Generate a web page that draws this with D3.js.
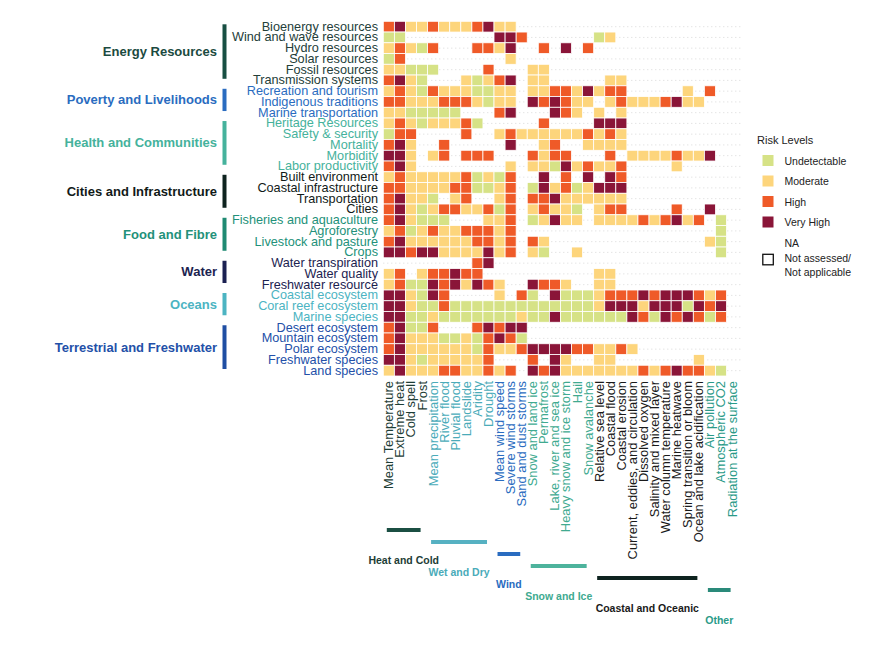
<!DOCTYPE html>
<html>
<head>
<meta charset="utf-8">
<script src="https://cdn.jsdelivr.net/npm/d3@7"></script>
<style>
  body { margin: 0; background: #fff; }
  text { font-family: "Liberation Sans", Arial, sans-serif; }
</style>
</head>
<body>
<div id="riskChart"></div>
<script>
// sectors (rows) and hazards (columns)
const sectors = [
  "Bioenergy resources", "Wind and wave resources", "Hydro resources", "Solar resources",
  "Fossil resources", "Transmission systems", "Recreation and tourism", "Indigenous traditions",
  "Marine transportation", "Heritage Resources", "Safety & security", "Mortality", "Morbidity",
  "Labor productivity", "Built environment", "Coastal infrastructure", "Transportation", "Cities",
  "Fisheries and aquaculture", "Agroforestry", "Livestock and pasture", "Crops",
  "Water transpiration", "Water quality", "Freshwater resource", "Coastal ecosystem",
  "Coral reef ecosystem", "Marine species", "Desert ecosystem", "Mountain ecosystem",
  "Polar ecosystem", "Freshwater species", "Land species"
];

const hazards = [
  "Mean Temperature", "Extreme heat", "Cold spell", "Frost", "Mean precipitation", "River flood",
  "Pluvial flood", "Landslide", "Aridity", "Drought", "Mean wind speed", "Severe wind storms",
  "Sand and dust storms", "Snow and land ice", "Permafrost", "Lake, river and sea ice",
  "Heavy snow and ice storm", "Hail", "Snow avalanche", "Relative sea level", "Coastal flood",
  "Coastal erosion", "Current, eddies, and circulation", "Dissolved oxygen",
  "Salinity and mixed layer", "Water column temperature", "Marine heatwave",
  "Spring transition or bloom", "Ocean and lake acidification", "Air pollution",
  "Atmospheric CO2", "Radiation at the surface"
];

// sector groups: name, first row, last row
const sectorGroups = [
  ["Energy Resources", 0, 5],
  ["Poverty and Livelihoods", 6, 8],
  ["Health and Communities", 9, 13],
  ["Cities and Infrastructure", 14, 17],
  ["Food and Fibre", 18, 21],
  ["Water", 22, 24],
  ["Oceans", 25, 27],
  ["Terrestrial and Freshwater", 28, 32]
];
const sectorGroupColors = ["#184f43", "#2a6cc0", "#45b29c", "#0e231f", "#1f8a72", "#1b2152", "#4cb4c2", "#1f4ea3"];
const sectorTextColors  = ["#24403a", "#2a6cc0", "#45b29c", "#111a18", "#23917a", "#1c2350", "#4cb4c2", "#2350a8"];

// hazard groups: name, first column, last column
const hazardGroups = [
  ["Heat and Cold", 0, 3],
  ["Wet and Dry", 4, 9],
  ["Wind", 10, 12],
  ["Snow and Ice", 13, 18],
  ["Coastal and Oceanic", 19, 28],
  ["Other", 29, 31]
];
const hazardGroupColors = ["#1b4f43", "#56b1c2", "#2a6cc0", "#4db39c", "#0e231f", "#2a8a7a"];
const hazardTextColors  = ["#1d3d36", "#4aabb9", "#2a6cc0", "#40aa90", "#1a1a1a", "#2a9a88"];

// risk level per cell, one string per sector, one letter per hazard
// G = Undetectable, Y = Moderate, O = High, R = Very High, . = not assessed
const riskRows = [
  "ORYYOYYYORYY....................",
  "GG........RRO......GY...........",
  "YOYGO...OOYR..O.R.O.............",
  "GO.........Y....................",
  "YYGGG....O...YY.................",
  "ORYG...YGYOR.YY.....YY..........",
  "YOYGOYYYGGYY.YYOOYRYOO.....Y.O..",
  "OOYYYOOOYGYY.ROROYY.YOYYYORYY...",
  "YYGGGGG...OR...ROY.Y.Y..........",
  "YOYGYYYOG.....O....RRR..........",
  "GOO....O..YOYYYYYYOYOY..........",
  "ORY..O.....R..YO..YYYY..........",
  "RRY.YO.OOO...OYOO...O.YYYYOYYR..",
  "ORY........Y.YYGRYOYYO....Y.....",
  "YOYYYYYOGYGO..R.O.R.RO..........",
  "OOYYYYOOGGYO.GRYOGYRRR..........",
  "ORYYG.YO..YO.OORYYYYYY..........",
  "ORYGYOOYYOGO.YOYYG.YOO....O..R..",
  "ORYGGG...YYO.GYRYY.YYYYOYORYO.G.",
  "YOGYOYYOOOYO..................G.",
  "ORYYYYYYOOYO.OY..............YG.",
  "RRORRYYYYRYO.YG..Y............G.",
  "........OR......................",
  "YO.YOOROO..........YY...........",
  "YOGGRORYROY..ROOY..YY...........",
  "RRYGRO....Y.OG.RGGGYOOORORRROYO.",
  "RRYGGOGGGGGGGGGGGGGYRRRYRRRGROR.",
  "RRGGYGGGGGGGYGGRGGGGGGROGROROGO.",
  "ORGGO...ORORR...................",
  "ORYYYGGYGOROG...................",
  "ORYYYYYYGOYYORRRROOYYOY.........",
  "RRYGYYYYYO...O.RY..YY.......Y...",
  "YRYYYOOYYOYO.RORYYYYYYYOYOROOYG."
];

const riskLevels = ["Undetectable", "Moderate", "High", "Very High"];
const riskCodes  = ["G", "Y", "O", "R"];
const riskColors = ["#d6e286", "#fdd57c", "#ef5a28", "#8a1538"];

// build the cell table from the strings
const cells = [];
riskRows.forEach((row, r) => {
  row.split("").forEach((code, c) => {
    const k = riskCodes.indexOf(code);
    if (k >= 0) cells.push({ sector: sectors[r], hazard: hazards[c], level: riskLevels[k] });
  });
});

const W = 885, H = 647;
const svg = d3.select("#riskChart").append("svg")
  .attr("width", W).attr("height", H);

const x = d3.scaleBand().domain(hazards).range([383.3, 737.6]);
const y = d3.scaleBand().domain(sectors).range([21.3, 376]);
const color = d3.scaleOrdinal().domain(riskLevels).range(riskColors);

// faint dotted grid
svg.append("g").selectAll("line")
  .data(sectors).join("line")
    .attr("x1", x.range()[0]).attr("x2", x.range()[1] + 4)
    .attr("y1", d => y(d) + y.bandwidth() / 2).attr("y2", d => y(d) + y.bandwidth() / 2)
    .attr("stroke", "#cfcfcf").attr("stroke-width", 0.8).attr("stroke-dasharray", "1,3");

// the cells
svg.append("g").selectAll("rect")
  .data(cells).join("rect")
    .attr("x", d => x(d.hazard))
    .attr("y", d => y(d.sector))
    .attr("width", x.bandwidth())
    .attr("height", y.bandwidth())
    .attr("fill", d => color(d.level))
    .attr("stroke", "#fff")
    .attr("stroke-width", 0.8);

// row group index lookup
const rowGroup = r => sectorGroups.findIndex(g => r >= g[1] && r <= g[2]);
const colGroup = c => hazardGroups.findIndex(g => c >= g[1] && c <= g[2]);

// left axis: sector labels
svg.append("g").selectAll("text")
  .data(sectors).join("text")
    .attr("x", 378)
    .attr("y", d => y(d) + y.bandwidth() / 2)
    .attr("text-anchor", "end")
    .attr("dominant-baseline", "central")
    .attr("font-size", 12.7)
    .attr("fill", (d, i) => sectorTextColors[rowGroup(i)])
    .text(d => d);

// bottom axis: hazard labels, rotated
svg.append("g").selectAll("text")
  .data(hazards).join("text")
    .attr("transform", d => `translate(${x(d) + x.bandwidth() / 2},381) rotate(-90)`)
    .attr("text-anchor", "end")
    .attr("dominant-baseline", "central")
    .attr("font-size", 12.9)
    .attr("fill", (d, i) => hazardTextColors[colGroup(i)])
    .text(d => d);

// sector group bars + names
const sg = svg.append("g").selectAll("g").data(sectorGroups).join("g");
sg.append("rect")
  .attr("x", 222.5)
  .attr("y", d => y(sectors[d[1]]) + 3)
  .attr("width", 4)
  .attr("height", d => y(sectors[d[2]]) + y.bandwidth() - 7 - (y(sectors[d[1]]) + 3))
  .attr("fill", (d, i) => sectorGroupColors[i]);
sg.append("text")
  .attr("x", 217)
  .attr("y", d => (y(sectors[d[1]]) + 3 + y(sectors[d[2]]) + y.bandwidth() - 7) / 2)
  .attr("text-anchor", "end")
  .attr("dominant-baseline", "central")
  .attr("font-size", 13)
  .attr("font-weight", "bold")
  .attr("fill", (d, i) => i === 0 ? "#1b4a40" : sectorTextColors[i])
  .text(d => d[0]);

// hazard group bars + names, staggered downwards
const hg = svg.append("g").selectAll("g").data(hazardGroups).join("g");
hg.append("rect")
  .attr("x", d => x(hazards[d[1]]) + 3.5)
  .attr("y", (d, i) => 528 + i * 12)
  .attr("width", d => x(hazards[d[2]]) + x.bandwidth() - 7 - (x(hazards[d[1]]) + 3.5))
  .attr("height", 4)
  .attr("fill", (d, i) => hazardGroupColors[i]);
hg.append("text")
  .attr("x", d => (x(hazards[d[1]]) + 3.5 + x(hazards[d[2]]) + x.bandwidth() - 7) / 2)
  .attr("y", (d, i) => 560 + i * 12)
  .attr("text-anchor", "middle")
  .attr("dominant-baseline", "central")
  .attr("font-size", 10.5)
  .attr("font-weight", "bold")
  .attr("fill", (d, i) => hazardTextColors[i])
  .text(d => d[0]);

// legend
const legend = svg.append("g").attr("transform", "translate(757,0)");
legend.append("text").attr("x", 0).attr("y", 140)
  .attr("dominant-baseline", "central").attr("font-size", 11).attr("fill", "#222")
  .text("Risk Levels");
riskLevels.forEach((lv, i) => {
  legend.append("rect").attr("x", 5.5).attr("y", 155 + i * 20.5)
    .attr("width", 11).attr("height", 11).attr("fill", color(lv));
  legend.append("text").attr("x", 27.5).attr("y", 160.7 + i * 20.5)
    .attr("dominant-baseline", "central").attr("font-size", 10.5).attr("fill", "#222")
    .text(lv);
});
legend.append("text").attr("x", 27.5).attr("y", 243.3)
  .attr("dominant-baseline", "central").attr("font-size", 10.5).attr("fill", "#222").text("NA");
legend.append("rect").attr("x", 5.8).attr("y", 254.3).attr("width", 10.5).attr("height", 10.5)
  .attr("fill", "none").attr("stroke", "#111").attr("stroke-width", 1.3);
legend.append("text").attr("x", 27.5).attr("y", 258.3)
  .attr("dominant-baseline", "central").attr("font-size", 10.5).attr("fill", "#222").text("Not assessed/");
legend.append("text").attr("x", 27.5).attr("y", 271.7)
  .attr("dominant-baseline", "central").attr("font-size", 10.5).attr("fill", "#222").text("Not applicable");
</script>
</body>
</html>
